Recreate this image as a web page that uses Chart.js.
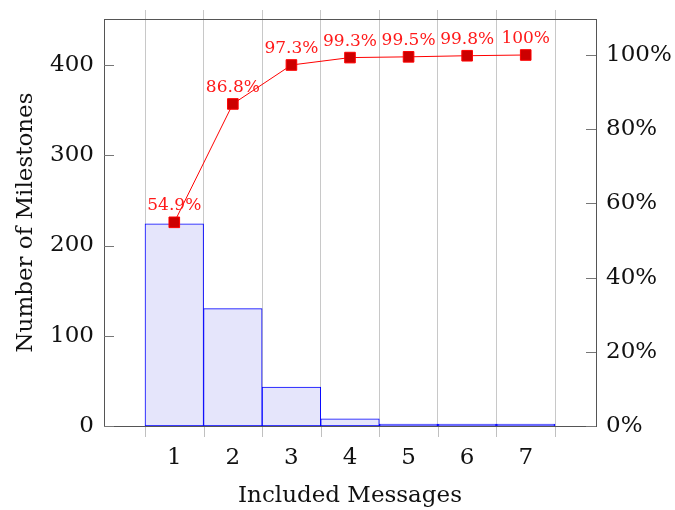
<!DOCTYPE html>
<html>
<head>
<meta charset="utf-8">
<script src="https://cdn.jsdelivr.net/npm/chart.js@4"></script>
<style>
  body { margin: 0; background: #fff; }
</style>
</head>
<body>
<canvas id="pareto" width="675" height="510"></canvas>
<script>
const categories = [1, 2, 3, 4, 5, 6, 7];
const milestones = [224, 130, 43, 8, 1, 1, 1];
const cumulativePct = [54.9, 86.8, 97.3, 99.3, 99.5, 99.8, 100];
const pctLabels = ['54.9%', '86.8%', '97.3%', '99.3%', '99.5%', '99.8%', '100%'];
const leftTicks = [0, 100, 200, 300, 400];
const rightTicks = [0, 20, 40, 60, 80, 100];
const gridTicks = [0.5, 1.5, 2.5, 3.5, 4.5, 5.5, 6.5, 7.5];

const serif = 'DejaVu Serif';

// labels above the red squares
const pctLabelPlugin = {
  id: 'pctLabels',
  afterDatasetsDraw(chart) {
    const meta = chart.getDatasetMeta(0);
    const c = chart.ctx;
    c.save();
    c.fillStyle = '#ff1a1a';
    c.font = '17px ' + serif;
    c.textAlign = 'center';
    c.textBaseline = 'bottom';
    meta.data.forEach(function(pt, i) {
      c.fillText(pctLabels[i], pt.x, pt.y - 8);
    });
    c.restore();
  }
};

// pgfplots style ticks: inward on y axes, gray marks below the x axis
const innerTicks = {
  id: 'innerTicks',
  afterDatasetsDraw(chart) {
    const c = chart.ctx;
    const area = chart.chartArea;
    c.save();
    c.lineWidth = 1;
    c.strokeStyle = '#c0c0c0';
    c.beginPath();
    gridTicks.forEach(function(v) {
      const x = Math.round(chart.scales.x.getPixelForValue(v)) + 0.5;
      c.moveTo(x, area.bottom + 1);
      c.lineTo(x, area.bottom + 11);
    });
    c.stroke();
    c.strokeStyle = '#777';
    c.beginPath();
    leftTicks.forEach(function(v) {
      const y = Math.round(chart.scales.y.getPixelForValue(v)) + 0.5;
      c.moveTo(area.left, y);
      c.lineTo(area.left + 10, y);
    });
    rightTicks.forEach(function(v) {
      const y = Math.round(chart.scales.y1.getPixelForValue(v)) + 0.5;
      c.moveTo(area.right, y);
      c.lineTo(area.right - 10, y);
    });
    c.stroke();
    c.restore();
  }
};

function fixWidth(w) {
  return function(axis) {
    axis.width = w;
    axis.paddingTop = 0;
    axis.paddingBottom = 0;
  };
}

const ctx = document.getElementById('pareto').getContext('2d');
const pareto = new Chart(ctx, {
  data: {
    datasets: [{
      type: 'line',
      label: 'Cumulative',
      data: categories.map(function(c, i) { return {x: c, y: cumulativePct[i]}; }),
      yAxisID: 'y1',
      borderColor: '#ff0000',
      borderWidth: 1,
      pointStyle: 'rect',
      pointRadius: 7.5,
      pointBackgroundColor: '#cc0000',
      pointBorderColor: '#ff0000',
      pointBorderWidth: 1,
      order: 0
    }, {
      type: 'bar',
      label: 'Milestones',
      data: categories.map(function(c, i) { return {x: c, y: milestones[i]}; }),
      yAxisID: 'y',
      backgroundColor: 'rgb(229, 229, 251)',
      borderColor: '#0000ff',
      borderWidth: 1,
      borderSkipped: false,
      minBarLength: 2,
      barPercentage: 1,
      categoryPercentage: 1,
      order: 1
    }]
  },
  options: {
    responsive: false,
    animation: false,
    layout: { padding: 0 },
    plugins: {
      legend: { display: false },
      tooltip: { enabled: false }
    },
    scales: {
      x: {
        type: 'linear',
        position: 'bottom',
        offset: false,
        min: -0.2,
        max: 8.2,
        afterBuildTicks: function(axis) {
          axis.ticks = categories.map(function(v) { return {value: v}; });
        },
        afterFit: function(axis) { axis.height = 84; },
        grid: { display: false, offset: false },
        border: { color: '#555', width: 1 },
        ticks: {
          autoSkip: false,
          maxRotation: 0,
          padding: 10,
          color: '#111',
          font: { family: serif, size: 23 }
        },
        title: {
          display: true,
          text: 'Included Messages',
          color: '#111',
          font: { family: serif, size: 23 },
          padding: { top: 0, bottom: 0 }
        }
      },
      xTop: {
        type: 'linear',
        position: 'top',
        offset: false,
        min: -0.2,
        max: 8.2,
        afterBuildTicks: function(axis) {
          axis.ticks = gridTicks.map(function(v) { return {value: v}; });
        },
        afterFit: function(axis) { axis.height = 19; },
        grid: { color: '#c8c8c8', tickLength: 9, offset: false },
        border: { color: '#555', width: 1 },
        ticks: { display: false }
      },
      y: {
        position: 'left',
        min: 0,
        max: 451,
        afterBuildTicks: function(axis) {
          axis.ticks = leftTicks.map(function(v) { return {value: v}; });
        },
        afterFit: fixWidth(104),
        grid: { display: false, drawTicks: false },
        border: { color: '#555', width: 1 },
        ticks: {
          padding: 10,
          color: '#111',
          font: { family: serif, size: 23 }
        },
        title: {
          display: true,
          text: 'Number of Milestones',
          color: '#111',
          font: { family: serif, size: 23 },
          padding: { top: 12, bottom: 0 }
        }
      },
      y1: {
        position: 'right',
        min: 0,
        max: 109.7,
        afterBuildTicks: function(axis) {
          axis.ticks = rightTicks.map(function(v) { return {value: v}; });
        },
        afterFit: fixWidth(79),
        grid: { display: false, drawTicks: false },
        border: { color: '#555', width: 1 },
        ticks: {
          padding: 10,
          color: '#111',
          font: { family: serif, size: 23 },
          callback: function(v) { return v + '%'; }
        }
      }
    }
  },
  plugins: [pctLabelPlugin, innerTicks]
});
</script>
</body>
</html>
